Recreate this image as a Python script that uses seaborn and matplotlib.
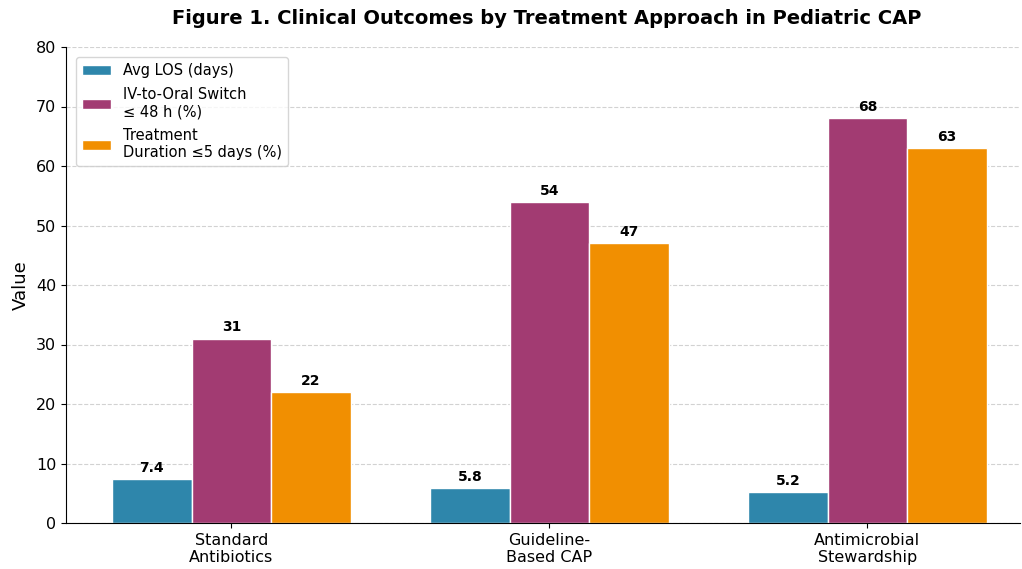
import pandas as pd
import matplotlib
matplotlib.use("Agg")
import matplotlib.pyplot as plt
from matplotlib.patches import Patch
import seaborn as sns

# Data
approaches = ["Standard\nAntibiotics", "Guideline-\nBased CAP", "Antimicrobial\nStewardship"]
metrics = ["Avg LOS (days)", "IV-to-Oral Switch\n≤ 48 h (%)", "Treatment\nDuration ≤5 days (%)"]
avg_los = [7.4, 5.8, 5.2]
iv_oral_switch = [31, 54, 68]
short_duration = [22, 47, 63]
colors = ["#2E86AB", "#A23B72", "#F18F01"]

df = pd.DataFrame({
    "Approach": approaches * 3,
    "Metric": [metrics[0]] * 3 + [metrics[1]] * 3 + [metrics[2]] * 3,
    "Value": avg_los + iv_oral_switch + short_duration,
})

plt.rcParams['font.family'] = ['DejaVu Sans']

fig = plt.figure(figsize=(10.22, 5.69), dpi=100)
ax = fig.add_axes([66 / 1022, 46 / 569, 954 / 1022, 476 / 569])

sns.barplot(data=df, x="Approach", y="Value", hue="Metric", palette=colors,
            width=0.75, edgecolor="white", linewidth=1, saturation=1,
            legend=False, ax=ax)

for cont in ax.containers:
    ax.bar_label(cont, labels=[f"{b.get_height():g}" for b in cont],
                 padding=3, fontsize=10, fontweight="bold")

ax.set_ylim(0, 80)
ax.set_xlim(-0.52, 2.48)
ax.set_xlabel("")
ax.set_ylabel("Value", fontsize=13)
ax.tick_params(axis="both", labelsize=11.5)
ax.yaxis.grid(True, linestyle="--", color="gray", alpha=0.35)
ax.set_axisbelow(True)
sns.despine(ax=ax)

handles = [Patch(facecolor=c, edgecolor="white", label=m) for c, m in zip(colors, metrics)]
ax.legend(handles=handles, loc="upper left", fontsize=10.5, frameon=True,
          labelspacing=0.6, borderaxespad=0.7)

fig.suptitle("Figure 1. Clinical Outcomes by Treatment Approach in Pediatric CAP",
             fontsize=14, fontweight="bold", x=0.535, y=0.985)

fig.savefig("out.png", dpi=100)
